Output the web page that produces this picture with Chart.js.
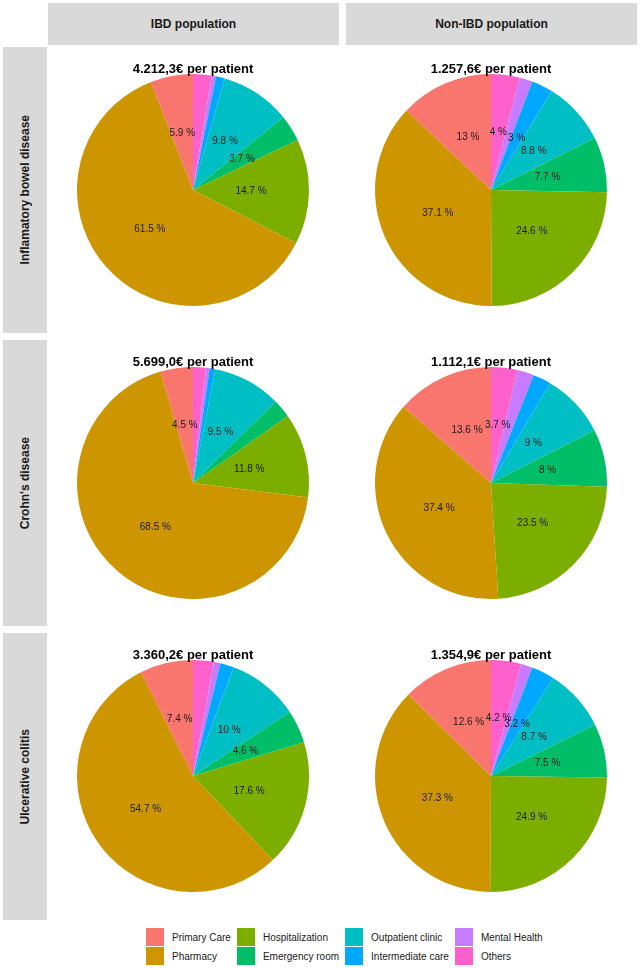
<!DOCTYPE html>
<html>
<head>
<meta charset="utf-8">
<script src="https://cdn.jsdelivr.net/npm/chart.js@4"></script>
<style>
  body { margin: 0; background: #fff; font-family: "Liberation Sans", Arial, sans-serif; }
  #page { position: relative; width: 641px; height: 968px; }
  .strip { position: absolute; background: #d9d9d9; color: #1a1a1a; font-weight: bold; font-size: 12px;
           display: flex; align-items: center; justify-content: center; }
  .vstrip span { writing-mode: vertical-rl; transform: rotate(180deg); }
  .panel { position: absolute; width: 291px; height: 286px; }
  #legend { position: absolute; left: 146px; top: 928px; display: grid; grid-template-rows: 18px 18px;
            grid-auto-flow: column; row-gap: 1px; column-gap: 6px; font-size: 10px; color: #1a1a1a; }
  .item { display: flex; align-items: center; }
  .key { width: 18px; height: 18px; margin-right: 8px; }
</style>
</head>
<body>
<div id="page">
  <div class="strip" style="left:48px;top:3px;width:291px;height:42px;">IBD population</div>
  <div class="strip" style="left:346px;top:3px;width:291px;height:42px;">Non-IBD population</div>
  <div class="strip vstrip" style="left:3px;top:47px;width:44px;height:286px;"><span>Inflamatory bowel disease</span></div>
  <div class="strip vstrip" style="left:3px;top:340px;width:44px;height:286px;"><span>Crohn's disease</span></div>
  <div class="strip vstrip" style="left:3px;top:633px;width:44px;height:287px;"><span>Ulcerative colitis</span></div>
  <div id="legend"></div>
</div>
<script>
// categories in legend order
var categories = ['Primary Care', 'Pharmacy', 'Hospitalization', 'Emergency room',
                  'Outpatient clinic', 'Intermediate care', 'Mental Health', 'Others'];
var colors = ['#F8766D', '#CD9600', '#7CAE00', '#00BE67', '#00BFC4', '#00A9FF', '#C77CFF', '#FF61CC'];

// percentage of cost per category
var ibdInIbd       = [5.9, 61.5, 14.7, 3.7, 9.8, 1.2, 0.6, 2.6];
var ibdInNonIbd    = [13, 37.1, 24.6, 7.7, 8.8, 3, 1.8, 4];
var crohnInIbd     = [4.5, 68.5, 11.8, 2.6, 9.5, 0.8, 0.5, 1.8];
var crohnInNonIbd  = [13.6, 37.4, 23.5, 8, 9, 2.5, 2.3, 3.7];
var ucInIbd        = [7.4, 54.7, 17.6, 4.6, 10, 1.9, 0.9, 2.9];
var ucInNonIbd     = [12.6, 37.3, 24.9, 7.5, 8.7, 3.2, 1.6, 4.2];

var costIbd    = ['4.212,3€', '5.699,0€', '3.360,2€'];
var costNonIbd = ['1.257,6€', '1.112,1€', '1.354,9€'];

var labelMin = 3;

var panelText = {
    id: 'panelText',
    afterDatasetsDraw: function (chart, args, opts) {
        var ctx = chart.ctx;
        var meta = chart.getDatasetMeta(0);
        var values = chart.data.datasets[0].data;
        ctx.save();
        ctx.textAlign = 'center';
        ctx.textBaseline = 'middle';
        ctx.fillStyle = '#1a1a1a';
        ctx.font = '10px "Liberation Sans", Arial, sans-serif';
        meta.data.forEach(function (arc, i) {
            if (values[i] < labelMin) return;
            var p = arc.tooltipPosition();
            ctx.fillText(values[i] + ' %', p.x, p.y);
        });
        ctx.fillStyle = '#000';
        ctx.font = 'bold 13px "Liberation Sans", Arial, sans-serif';
        var a = chart.chartArea;
        ctx.fillText(opts.text + ' per patient', (a.left + a.right) / 2, 22);
        ctx.restore();
    }
};

function makePie(left, top, values, title) {
    var canvas = document.createElement('canvas');
    canvas.width = 291;
    canvas.height = 286;
    canvas.className = 'panel';
    canvas.style.left = left + 'px';
    canvas.style.top = top + 'px';
    document.getElementById('page').appendChild(canvas);

    // ggplot draws the last factor level first going clockwise from 12 o'clock
    new Chart(canvas.getContext('2d'), {
        type: 'pie',
        data: {
            labels: categories.slice().reverse(),
            datasets: [{
                data: values.slice().reverse(),
                backgroundColor: colors.slice().reverse(),
                borderWidth: 0
            }]
        },
        options: {
            responsive: false,
            animation: false,
            layout: { padding: { left: 29, right: 30, top: 27, bottom: 27 } },
            plugins: {
                legend: { display: false },
                tooltip: { enabled: false },
                panelText: { text: title }
            }
        },
        plugins: [panelText]
    });
}

makePie(48, 47, ibdInIbd, costIbd[0]);
makePie(346, 47, ibdInNonIbd, costNonIbd[0]);
makePie(48, 340, crohnInIbd, costIbd[1]);
makePie(346, 340, crohnInNonIbd, costNonIbd[1]);
makePie(48, 633, ucInIbd, costIbd[2]);
makePie(346, 633, ucInNonIbd, costNonIbd[2]);

var legend = document.getElementById('legend');
categories.forEach(function (c, i) {
    var item = document.createElement('div');
    item.className = 'item';
    item.innerHTML = '<div class="key" style="background:' + colors[i] + '"></div><span>' + c + '</span>';
    legend.appendChild(item);
});
</script>
</body>
</html>
